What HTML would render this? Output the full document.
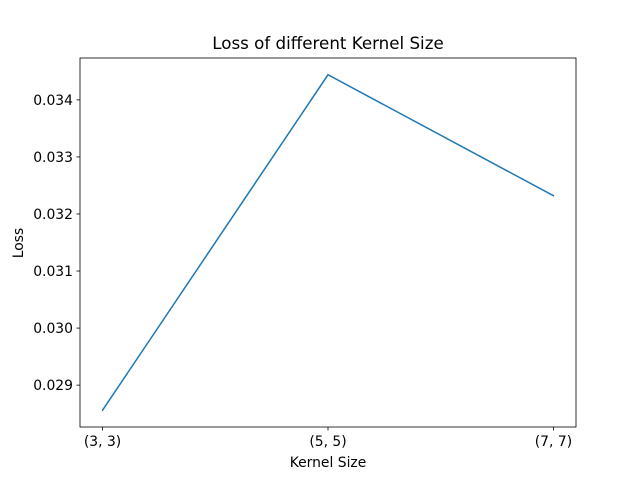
<!DOCTYPE html>
<html><head><meta charset="utf-8"><style>
body{margin:0;background:#fff}
svg text{font-family:"DejaVu Sans","Liberation Sans",sans-serif;fill:#000}
</style></head><body>
<svg id="chart" width="640" height="480" viewBox="0 0 640 480">
<rect x="0" y="0" width="640" height="480" fill="#fff"/>
<text x="328" y="49" font-size="16.7" text-anchor="middle">Loss of different Kernel Size</text>
<g id="axes"></g>
<text x="328" y="467" font-size="13.9" text-anchor="middle">Kernel Size</text>
<text transform="translate(23,243) rotate(-90)" font-size="13.9" text-anchor="middle">Loss</text>
</svg>
<script>
const categories = ["(3, 3)", "(5, 5)", "(7, 7)"];
const lossValues = [0.02856, 0.03444, 0.03232];
const yTicks = [0.029, 0.030, 0.031, 0.032, 0.033, 0.034];
const yTickLabels = ["0.029", "0.030", "0.031", "0.032", "0.033", "0.034"];

const NS = "http://www.w3.org/2000/svg";
const L = 80, R = 576, T = 58, B = 427;
const n = categories.length;
const xMin = -0.1 * (n - 1) / 2, xMax = (n - 1) + 0.1 * (n - 1) / 2;
function xs(i) { return L + (i - xMin) / (xMax - xMin) * (R - L); }
const dmin = Math.min(...lossValues), dmax = Math.max(...lossValues);
const pad = (dmax - dmin) * 0.05;
const yMin = dmin - pad, yMax = dmax + pad;
function ys(v) { return B - (v - yMin) / (yMax - yMin) * (B - T); }

const g = document.getElementById("axes");
function mk(tag, attrs) { const e = document.createElementNS(NS, tag); for (const k in attrs) e.setAttribute(k, attrs[k]); g.appendChild(e); return e; }

yTicks.forEach((v, i) => {
  const y = ys(v);
  const t = mk("line", {x1: L - 3.5, x2: L, y1: y, y2: y, stroke: "#000", "stroke-width": 0.8});
  
  
  const tx = mk("text", {x: L - 7, y: y + 5, "font-size": 13.9, "text-anchor": "end"});
  tx.textContent = yTickLabels[i];
  
  
});
categories.forEach((c, i) => {
  const x = xs(i);
  const t = mk("line", {x1: x, x2: x, y1: B, y2: B + 3.5, stroke: "#000", "stroke-width": 0.8});
  
  
  const tx = mk("text", {x: x, y: B + 19, "font-size": 13.9, "text-anchor": "middle"});
  tx.textContent = c;
  
  
});
const pts = lossValues.map((v, i) => xs(i) + "," + ys(v)).join(" ");
const line = mk("polyline", {points: pts, fill: "none", stroke: "#1f77b4", "stroke-width": 1.5, "stroke-linecap": "square"});


const frame = mk("rect", {x: L, y: T, width: R - L, height: B - T, fill: "none", stroke: "#000", "stroke-width": 0.8});


</script>
</body></html>
